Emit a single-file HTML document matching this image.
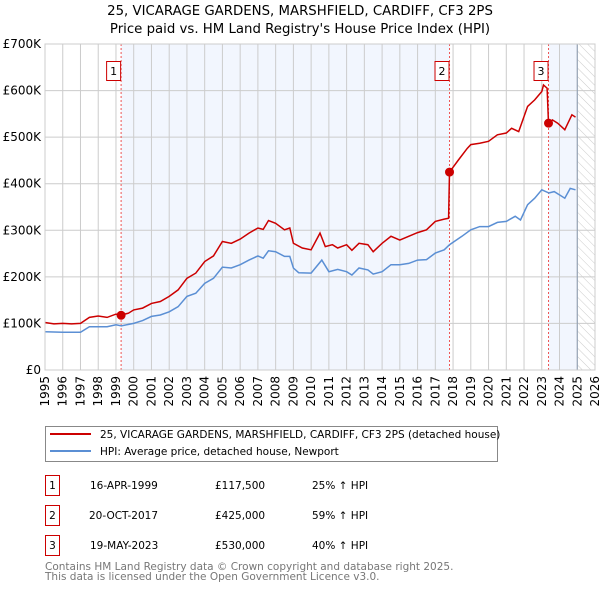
<!DOCTYPE html>
<html><head><meta charset="utf-8"><style>
body{margin:0;background:#fff;width:600px;height:590px;overflow:hidden;font-family:"DejaVu Sans","Liberation Sans",sans-serif;}
svg text{font-family:"DejaVu Sans","Liberation Sans",sans-serif;}
</style></head><body>
<svg id="chart" width="600" height="590" xmlns="http://www.w3.org/2000/svg">
<text x="300" y="15" text-anchor="middle" font-size="13.3">25, VICARAGE GARDENS, MARSHFIELD, CARDIFF, CF3 2PS</text>
<text x="300" y="33" text-anchor="middle" font-size="13.3">Price paid vs. HM Land Registry's House Price Index (HPI)</text>
<defs><pattern id="hatch" width="6" height="6" patternUnits="userSpaceOnUse" patternTransform="rotate(-45)"><line x1="0" y1="0" x2="0" y2="6" stroke="#ccc" stroke-width="1"/></pattern></defs>
<g id="plot"></g>
<g>
<rect x="45.5" y="426.5" width="452" height="35" fill="#fff" stroke="#888"/>
<line x1="50" y1="434" x2="91" y2="434" stroke="#cc0000" stroke-width="2"/>
<text x="100" y="438" font-size="10.5">25, VICARAGE GARDENS, MARSHFIELD, CARDIFF, CF3 2PS (detached house)</text>
<line x1="50" y1="451" x2="91" y2="451" stroke="#5b8fd4" stroke-width="2"/>
<text x="100" y="455" font-size="10.5">HPI: Average price, detached house, Newport</text>
</g>
<g font-size="10.5">
<rect x="45.5" y="475.5" width="14" height="20" fill="#fff" stroke="#cc0000"/><text x="52.5" y="489" text-anchor="middle">1</text>
<text x="90" y="489">16-APR-1999</text><text x="215" y="489">£117,500</text><text x="312" y="489">25% ↑ HPI</text>
<rect x="45.5" y="505.5" width="14" height="20" fill="#fff" stroke="#cc0000"/><text x="52.5" y="519" text-anchor="middle">2</text>
<text x="89" y="519">20-OCT-2017</text><text x="215" y="519">£425,000</text><text x="312" y="519">59% ↑ HPI</text>
<rect x="45.5" y="535.5" width="14" height="20" fill="#fff" stroke="#cc0000"/><text x="52.5" y="549" text-anchor="middle">3</text>
<text x="90" y="549">19-MAY-2023</text><text x="215" y="549">£530,000</text><text x="312" y="549">40% ↑ HPI</text>
</g>
<text x="45" y="570" font-size="10.5" fill="#777">Contains HM Land Registry data © Crown copyright and database right 2025.</text>
<text x="45" y="580" font-size="10.5" fill="#777">This data is licensed under the Open Government Licence v3.0.</text>
</svg>
<script>
const yearTicks=[1995,1996,1997,1998,1999,2000,2001,2002,2003,2004,2005,2006,2007,2008,2009,2010,2011,2012,2013,2014,2015,2016,2017,2018,2019,2020,2021,2022,2023,2024,2025,2026];
const priceTicks=[0,100,200,300,400,500,600,700];
const priceTickLabels=["£0","£100K","£200K","£300K","£400K","£500K","£600K","£700K"];
const hpiYears=[1995,1996,1997,1997.5,1998,1998.5,1999,1999.3,2000,2000.5,2001,2001.5,2002,2002.5,2003,2003.5,2004,2004.5,2005,2005.5,2006,2006.5,2007,2007.3,2007.6,2008,2008.5,2008.8,2009,2009.3,2010,2010.6,2011,2011.5,2012,2012.3,2012.7,2013.2,2013.5,2014,2014.5,2015,2015.5,2016,2016.5,2017,2017.5,2017.8,2018.5,2019,2019.5,2020,2020.5,2021,2021.5,2021.8,2022.2,2022.6,2023,2023.4,2023.7,2024,2024.3,2024.6,2024.9];
const hpiValues=[82,81,81,93,93,93,97,95,100,106,115,118,125,136,158,165,186,197,221,219,226,236,245,240,256,254,244,244,219,209,208,236,211,216,211,204,219,215,206,211,226,226,229,236,237,251,258,269,287,301,308,308,317,319,330,322,355,369,387,380,383,376,369,390,387];
const priceYears=[1995,1995.5,1996,1996.5,1997,1997.5,1998,1998.5,1999,1999.29,1999.7,2000,2000.5,2001,2001.5,2002,2002.5,2003,2003.5,2004,2004.5,2005,2005.5,2006,2006.5,2007,2007.3,2007.6,2008,2008.5,2008.8,2009,2009.5,2010,2010.5,2010.8,2011.2,2011.5,2012,2012.3,2012.7,2013.2,2013.5,2014,2014.5,2015,2015.5,2016,2016.5,2017,2017.5,2017.75,2017.8,2018.3,2018.8,2019,2019.5,2020,2020.5,2021,2021.3,2021.7,2022.2,2022.6,2023,2023.1,2023.3,2023.38,2023.6,2023.9,2024.3,2024.7,2024.9];
const priceValues=[102,99,100,99,100,113,116,113,120,118,122,129,133,143,147,158,172,197,208,233,245,276,272,281,294,305,302,321,315,301,305,272,262,258,294,265,269,262,269,257,272,269,254,272,287,279,287,295,301,319,324,326,425,451,476,484,487,491,505,509,519,512,566,580,598,612,605,530,537,530,516,548,543];
const saleYears=[1999.29,2017.8,2023.38];
const saleValues=[117.5,425,530];
const saleLabels=["1","2","3"];
const X0=45,X1=595,Y0=370,Y1=44;
const xs=y=>X0+(y-1995)/(2026-1995)*(X1-X0);
const ys=v=>Y0-v/700*(Y0-Y1);
const NS="http://www.w3.org/2000/svg";
const plot=document.getElementById('plot');
function mk(tag,attrs){const e=document.createElementNS(NS,tag);for(const k in attrs)e.setAttribute(k,attrs[k]);plot.appendChild(e);return e;}
let s1=mk('rect',{x:xs(saleYears[0]),y:Y1,width:xs(saleYears[1])-xs(saleYears[0]),height:Y0-Y1,fill:'#eef3fd',opacity:0.75});


let s2=mk('rect',{x:xs(saleYears[2]),y:Y1,width:xs(2025)-xs(saleYears[2]),height:Y0-Y1,fill:'#eef3fd',opacity:0.75});


let h=mk('rect',{x:xs(2025),y:Y1,width:X1-xs(2025),height:Y0-Y1,fill:'url(#hatch)'});


yearTicks.forEach(yr=>{
 let l=mk('line',{x1:xs(yr),x2:xs(yr),y1:Y1,y2:Y0,stroke:'#ccc','stroke-width':1});
 
 
 let t=mk('text',{x:0,y:0,'font-size':12,'text-anchor':'end',transform:`translate(${xs(yr)+4},${Y0+6}) rotate(-90)`});
 t.textContent=yr;
 
 
});
priceTicks.forEach((p,i)=>{
 let l=mk('line',{x1:X0,x2:X1,y1:ys(p),y2:ys(p),stroke:'#ccc','stroke-width':1});
 
 
 let t=mk('text',{x:X0-4,y:ys(p)+4,'font-size':12,'text-anchor':'end'});
 t.textContent=priceTickLabels[i];
 
 
});
let vl=mk('line',{x1:xs(2025),x2:xs(2025),y1:Y1,y2:Y0,stroke:'#8a9ab0','stroke-width':1});


saleYears.forEach((yr,i)=>{
 let l=mk('line',{x1:xs(yr),x2:xs(yr),y1:Y1,y2:Y0,stroke:'#ee5555','stroke-width':1,'stroke-dasharray':'2,2'});
 
 
});
function path(xa,va){return xa.map((x,i)=>(i?'L':'M')+xs(x).toFixed(1)+','+ys(va[i]).toFixed(1)).join('');}
let hp=mk('path',{d:path(hpiYears,hpiValues),fill:'none',stroke:'#5b8fd4','stroke-width':1.5});


let pp=mk('path',{d:path(priceYears,priceValues),fill:'none',stroke:'#cc0000','stroke-width':1.5});


saleYears.forEach((yr,i)=>{
 let c=mk('circle',{cx:xs(yr),cy:ys(saleValues[i]),r:4.5,fill:'#cc0000'});
 
 
 let b=mk('rect',{x:xs(yr)-14.5,y:61.5,width:14,height:19,fill:'#fff',stroke:'#cc0000'});
 
 
 let t=mk('text',{x:xs(yr)-7.5,y:75,'font-size':11,'text-anchor':'middle'});
 t.textContent=saleLabels[i];
 
 
});
let ax=mk('rect',{x:X0,y:Y1,width:X1-X0,height:Y0-Y1,fill:'none',stroke:'#ccc'});


</script>
</body></html>
